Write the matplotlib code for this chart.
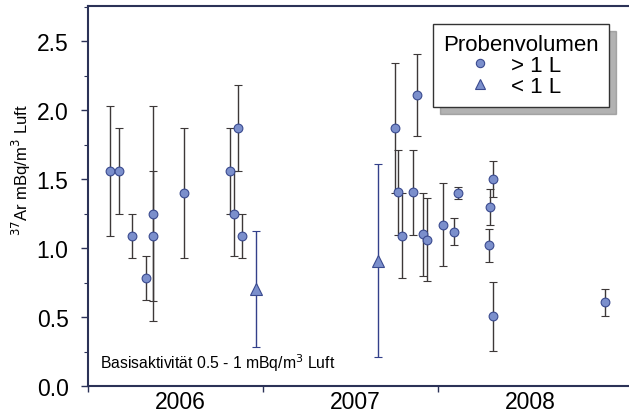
import matplotlib
matplotlib.use("Agg")
import matplotlib.pyplot as plt
from matplotlib.ticker import MultipleLocator, FixedLocator, NullFormatter, FixedFormatter
from matplotlib.lines import Line2D

plt.rcParams['font.family'] = ['Liberation Sans', 'DejaVu Sans']

# Samples > 1 L (decimal year, activity, error)
big_x = [2006.126, 2006.179, 2006.250, 2006.330, 2006.370, 2006.370, 2006.550,
         2006.811, 2006.836, 2006.857, 2006.880,
         2007.754, 2007.773, 2007.796, 2007.855, 2007.878, 2007.916, 2007.935,
         2008.030, 2008.093, 2008.116, 2008.291, 2008.297, 2008.314, 2008.316,
         2008.954]
big_y = [1.56, 1.56, 1.09, 0.785, 1.25, 1.09, 1.40,
         1.56, 1.25, 1.87, 1.09,
         1.87, 1.405, 1.09, 1.405, 2.11, 1.10, 1.06,
         1.17, 1.12, 1.40, 1.02, 1.30, 0.505, 1.50,
         0.606]
big_err = [0.47, 0.31, 0.16, 0.16, 0.78, 0.47, 0.47,
           0.31, 0.31, 0.31, 0.16,
           0.47, 0.31, 0.31, 0.31, 0.30, 0.30, 0.30,
           0.30, 0.10, 0.045, 0.12, 0.13, 0.25, 0.13,
           0.10]

# Samples < 1 L
small_x = [2006.958, 2007.659]
small_y = [0.705, 0.91]
small_err = [0.42, 0.70]

year_ticks = [2006, 2007, 2008]
year_labels = ['2006', '2007', '2008']

fig = plt.figure(figsize=(6.29, 4.14), dpi=100)
ax = fig.add_axes([88/629, 27/414, 1 - 88/629, (387 - 7)/414])

navy = '#2b3257'
fill = '#7b8fcc'
edge = '#3a4a8f'

ax.errorbar(big_x, big_y, yerr=big_err, fmt='o', ms=6.3, mfc=fill, mec=edge, mew=0.8,
            ecolor='#3d3838', elinewidth=1.0, capsize=3.2, capthick=1.0, zorder=3)
ax.errorbar(small_x, small_y, yerr=small_err, fmt='^', ms=8, mfc=fill, mec=edge, mew=0.8,
            ecolor='#33408a', elinewidth=1.0, capsize=3.2, capthick=1.0, zorder=3)

ax.set_xlim(2006.0, 2006 + (629 - 88) / 175)
ax.set_ylim(0, 2.756)

ax.yaxis.set_major_locator(MultipleLocator(0.5))
ax.yaxis.set_minor_locator(MultipleLocator(0.25))
ax.yaxis.set_major_formatter(matplotlib.ticker.FormatStrFormatter('%.1f'))
ax.tick_params(axis='y', which='major', labelsize=16.5, length=5, width=1.0, color=navy, pad=9)
ax.tick_params(axis='y', which='minor', length=3, width=0.8, color=navy)

ax.xaxis.set_major_locator(FixedLocator(year_ticks))
ax.xaxis.set_major_formatter(NullFormatter())
ax.xaxis.set_minor_locator(FixedLocator([y + 0.53 for y in year_ticks]))
ax.xaxis.set_minor_formatter(FixedFormatter(year_labels))
ax.tick_params(axis='x', which='major', length=4, width=1.0, color=navy)
ax.tick_params(axis='x', which='minor', length=0, labelsize=16.5, pad=3)

for s in ['left', 'bottom', 'top']:
    ax.spines[s].set_color(navy)
    ax.spines[s].set_linewidth(1.5)
ax.spines['right'].set_visible(False)

fig.text(21/629, 1 - 170/414, '$^{37}$Ar mBq/m$^{3}$ Luft', rotation=90,
         fontsize=12, ha='center', va='center')

ax.text(12/541, 0.033, 'Basisaktivität 0.5 - 1 mBq/m$^{3}$ Luft', transform=ax.transAxes,
        fontsize=11.3, ha='left', va='bottom')

handles = [Line2D([], [], ls='none', marker='o', ms=6, mfc=fill, mec=edge, mew=0.8),
           Line2D([], [], ls='none', marker='^', ms=7, mfc=fill, mec=edge, mew=0.8)]
leg = ax.legend(handles, ['> 1 L', '< 1 L'], title='Probenvolumen', loc='upper right',
                bbox_to_anchor=((609 - 88) / 541, (387 - 25) / 380), fontsize=16,
                title_fontsize=16, frameon=True, fancybox=False,
                shadow={'color': '0.5', 'alpha': 0.6, 'ox': 5, 'oy': -5},
                edgecolor='#333333', handletextpad=-0.25, borderpad=0.45, labelspacing=0.0,
                handlelength=3.3, borderaxespad=0, alignment='left')
leg.get_frame().set_linewidth(1.0)

fig.savefig('out.png', dpi=100)
